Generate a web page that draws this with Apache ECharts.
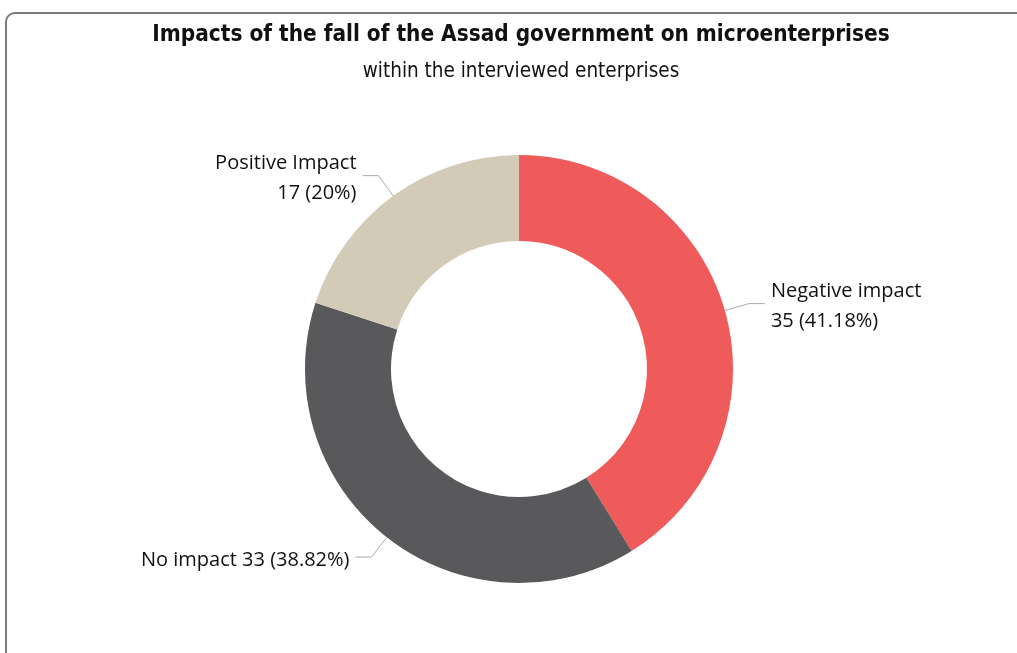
<!DOCTYPE html>
<html>
<head>
<meta charset="utf-8">
<script src="https://cdn.jsdelivr.net/npm/echarts@6/dist/echarts.min.js"></script>
<style>
  html, body { margin: 0; padding: 0; background: #fff; overflow: hidden; }
  #frame {
    position: absolute; left: 5px; top: 12px; width: 1100px; height: 800px;
    border: 2px solid #7a7a7a; border-radius: 10px; box-sizing: border-box;
  }
  #chart { position: absolute; left: 0; top: 0; width: 1017px; height: 653px; }
</style>
</head>
<body>
<div id="frame"></div>
<div id="chart"></div>
<script>
// Impact categories and counts of interviewed microenterprises
const categories = ['Negative impact', 'No impact', 'Positive Impact'];
const counts = [35, 33, 17];
const colors = ['#EF5A5A', '#59595B', '#D3CBB8'];
const twoLineLabel = [true, false, true];

const chart = echarts.init(document.getElementById('chart'));

const labelFont = '"Open Sans", "Noto Sans", sans-serif';
const titleFont = '"DejaVu Sans Condensed", "DejaVu Sans", sans-serif';

chart.setOption({
  backgroundColor: 'transparent',
  animation: false,
  title: {
    text: 'Impacts of the fall of the Assad government on microenterprises',
    subtext: 'within the interviewed enterprises',
    left: 516,
    textAlign: 'center',
    top: 19,
    itemGap: 15,
    textStyle: {
      fontFamily: titleFont,
      fontWeight: 'bold',
      fontSize: 22.4,
      color: '#111111'
    },
    subtextStyle: {
      fontFamily: titleFont,
      fontSize: 20.5,
      color: '#111111'
    }
  },
  series: [{
    type: 'pie',
    center: [519, 369],
    radius: [128, 214],
    startAngle: 90,
    clockwise: true,
    avoidLabelOverlap: false,
    data: categories.map((name, i) => ({
      name: name,
      value: counts[i],
      itemStyle: { color: colors[i] }
    })),
    label: {
      show: true,
      position: 'outside',
      fontFamily: labelFont,
      fontSize: 20,
      lineHeight: 30,
      color: '#111111',
      distanceToLabelLine: 6,
      formatter: function (p) {
        const pct = String(Math.round(p.percent * 100) / 100);
        const sep = twoLineLabel[p.dataIndex] ? '\n' : ' ';
        return p.name + sep + p.value + ' (' + pct + '%)';
      }
    },
    labelLayout: function () {
      return { dy: 3 };
    },
    labelLine: {
      show: true,
      length: 25,
      length2: 16,
      lineStyle: { color: '#aaaaaa', width: 1 }
    }
  }]
});
</script>
</body>
</html>
